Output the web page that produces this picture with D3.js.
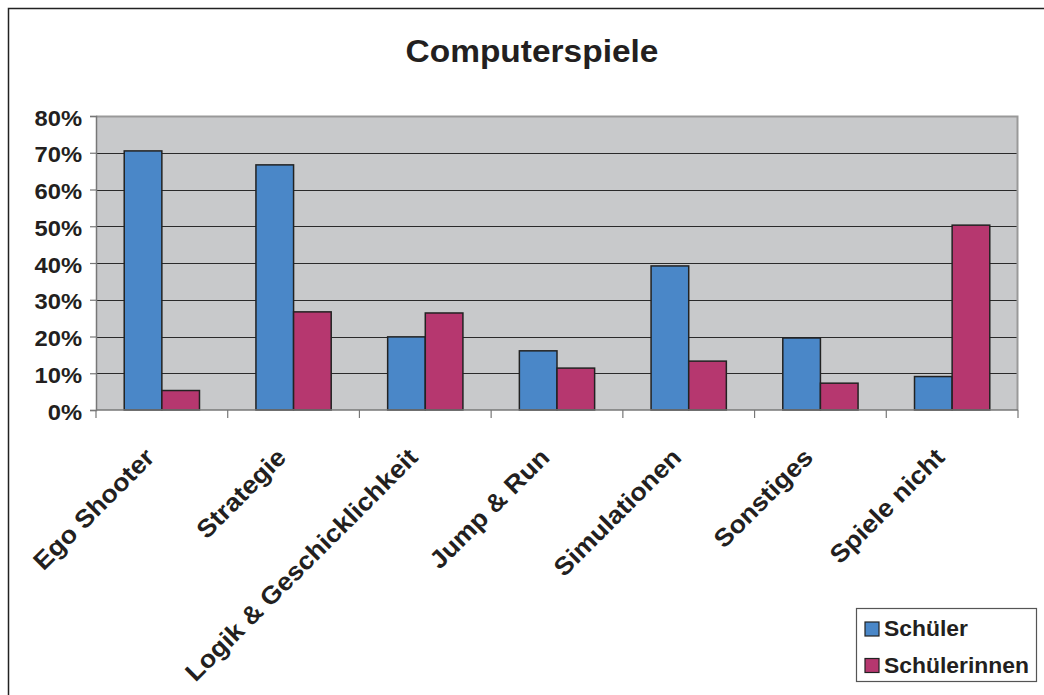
<!DOCTYPE html>
<html>
<head>
<meta charset="utf-8">
<script src="https://cdn.jsdelivr.net/npm/d3@7"></script>
<style>
  html, body { margin: 0; padding: 0; background: #fff; }
  svg { display: block; font-family: "Liberation Sans", Arial, sans-serif; }
</style>
</head>
<body>
<script>
const categories = ["Ego Shooter", "Strategie", "Logik & Geschicklichkeit", "Jump & Run", "Simulationen", "Sonstiges", "Spiele nicht"];
const seriesNames = ["Schüler", "Schülerinnen"];
const schueler = [70.5, 66.7, 19.9, 16.1, 39.2, 19.6, 9.1];
const schuelerinnen = [5.3, 26.7, 26.4, 11.4, 13.3, 7.3, 50.3];
const yTicks = [0, 10, 20, 30, 40, 50, 60, 70, 80];
const title = "Computerspiele";

const colors = ["#4a87c8", "#b6376f"];
const W = 1044, H = 695;
const plot = { left: 96, top: 116, right: 1018, bottom: 410 };
const stretch = 1.08;

const svg = d3.select("body").append("svg").attr("width", W).attr("height", H);

// outer chart border
svg.append("rect").attr("x", 8.5).attr("y", 8.5).attr("width", W + 20).attr("height", H + 20)
  .attr("fill", "#fff").attr("stroke", "#222").attr("stroke-width", 1.5);

const x = d3.scaleBand().domain(categories).range([plot.left, plot.right]).paddingInner(0).paddingOuter(0);
const x1 = d3.scaleBand().domain(seriesNames).range([0, x.bandwidth()]).paddingOuter(0.75).paddingInner(0);
const y = d3.scaleLinear().domain([0, 80]).range([plot.bottom, plot.top]);

// plot background
svg.append("rect").attr("x", plot.left).attr("y", plot.top)
  .attr("width", plot.right - plot.left).attr("height", plot.bottom - plot.top)
  .attr("fill", "#c8c9cb");

// gridlines
svg.append("g").selectAll("line").data(yTicks.filter(d => d > 0 && d < 80)).join("line")
  .attr("x1", plot.left).attr("x2", plot.right)
  .attr("y1", d => Math.round(y(d)) + 0.5).attr("y2", d => Math.round(y(d)) + 0.5)
  .attr("stroke", "#2a2a2a").attr("stroke-width", 1);

// plot top/right border
svg.append("path")
  .attr("d", `M${plot.left},${plot.top + 0.5}H${plot.right - 0.5}V${plot.bottom}`)
  .attr("fill", "none").attr("stroke", "#999").attr("stroke-width", 2);

// bars
const data = categories.map((c, i) => ({ c, vals: [schueler[i], schuelerinnen[i]] }));
const groups = svg.append("g").selectAll("g").data(data).join("g")
  .attr("transform", d => `translate(${x(d.c)},0)`);
groups.selectAll("rect").data(d => d.vals.map((v, j) => ({ v, s: seriesNames[j], j }))).join("rect")
  .attr("x", d => x1(d.s))
  .attr("y", d => y(d.v))
  .attr("width", x1.bandwidth())
  .attr("height", d => y(0) - y(d.v))
  .attr("fill", d => colors[d.j])
  .attr("stroke", "#222").attr("stroke-width", 1.5);

// y axis
const yAxis = d3.axisLeft(y).tickValues(yTicks).tickSize(6).tickFormat(d => d + "%");
const gy = svg.append("g").attr("transform", `translate(${plot.left},0)`).call(yAxis);
gy.select(".domain").attr("stroke", "#777").attr("stroke-width", 1.5);
gy.selectAll(".tick line").attr("stroke", "#777").attr("stroke-width", 1.2);
gy.selectAll(".tick text")
  .attr("x", null)
  .attr("transform", `translate(-14,0) scale(${stretch},1)`)
  .attr("dy", "0.42em")
  .attr("font-size", 22).attr("font-weight", "bold").attr("fill", "#231f20")
  .attr("font-family", "Liberation Sans, Arial, sans-serif");

// x axis line and ticks at category boundaries
const gx = svg.append("g");
gx.append("line").attr("x1", plot.left).attr("x2", plot.right)
  .attr("y1", plot.bottom).attr("y2", plot.bottom)
  .attr("stroke", "#777").attr("stroke-width", 1.5);
const bounds = categories.map(c => x(c)).concat([plot.right]);
gx.selectAll("line.tk").data(bounds).join("line").attr("class", "tk")
  .attr("x1", d => d).attr("x2", d => d)
  .attr("y1", plot.bottom).attr("y2", plot.bottom + 8)
  .attr("stroke", "#777").attr("stroke-width", 1.2);

// x labels rotated
gx.selectAll("text").data(categories).join("text")
  .attr("transform", c => `translate(${x(c) + x.bandwidth() / 2 - 6},${plot.bottom + 49}) rotate(-45) scale(1.07,1)`)
  .attr("text-anchor", "end")
  .attr("font-size", 25).attr("font-weight", "bold").attr("fill", "#231f20")
  .text(c => c);

// title
svg.append("text").attr("transform", `translate(532,62) scale(${stretch},1)`).attr("text-anchor", "middle")
  .attr("font-size", 31).attr("font-weight", "bold").attr("fill", "#231f20")
  .text(title);

// legend
const lg = svg.append("g");
lg.append("rect").attr("x", 856.5).attr("y", 608.5).attr("width", 180).attr("height", 73)
  .attr("fill", "#fff").attr("stroke", "#555").attr("stroke-width", 1.2);
const items = lg.selectAll("g").data(seriesNames).join("g")
  .attr("transform", (d, i) => `translate(865,${622 + i * 36.5})`);
items.append("rect").attr("width", 14).attr("height", 14)
  .attr("fill", (d, i) => colors[i]).attr("stroke", "#222").attr("stroke-width", 1.2);
items.append("text").attr("transform", `translate(19,14) scale(1.04,1)`)
  .attr("font-size", 22).attr("font-weight", "bold").attr("fill", "#231f20")
  .text(d => d);
</script>
</body>
</html>
